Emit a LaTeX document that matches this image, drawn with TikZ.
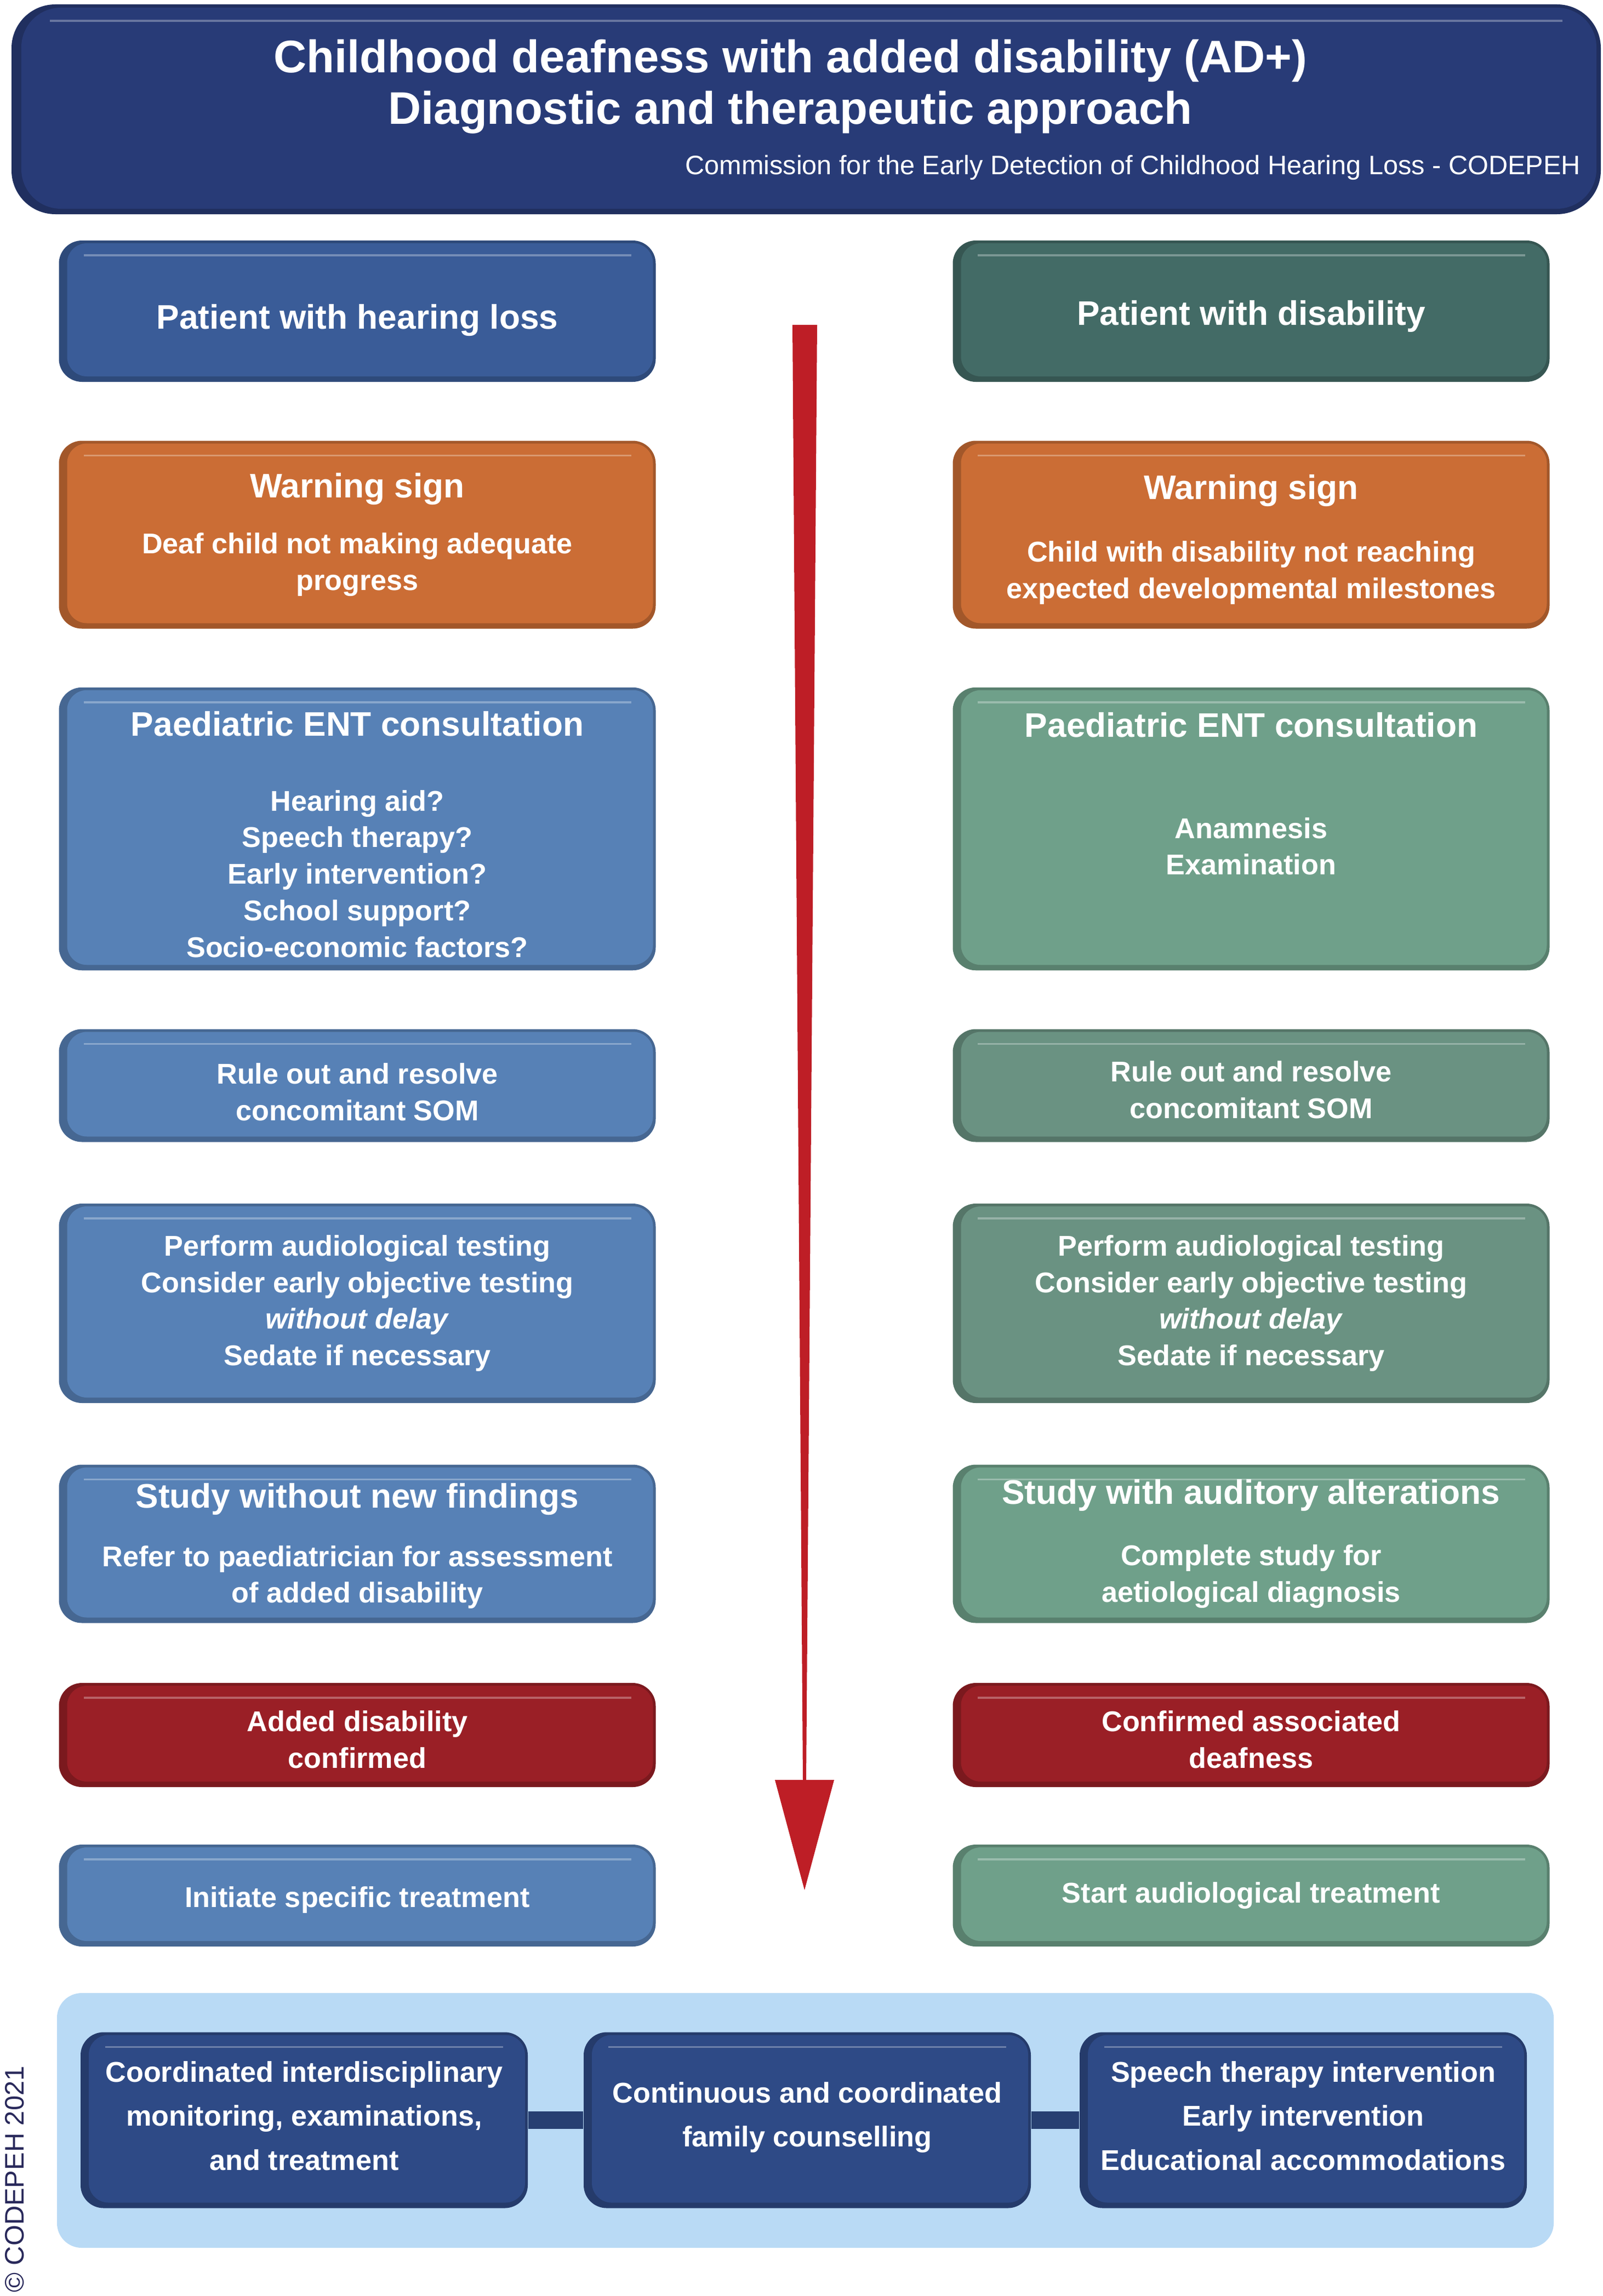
\documentclass[tikz,border=0pt]{standalone}
\usepackage{fontspec}
\setmainfont{Liberation Sans}
\usepackage{tikz}
\usetikzlibrary{calc,positioning}
\definecolor{navy}{HTML}{283B77}
\definecolor{hearblue}{HTML}{3A5C98}
\definecolor{disteal}{HTML}{436B66}
\definecolor{warnorange}{HTML}{CB6D35}
\definecolor{midblue}{HTML}{5781B6}
\definecolor{sage}{HTML}{6FA08A}
\definecolor{greysage}{HTML}{6A9282}
\definecolor{wine}{HTML}{9A1F26}
\definecolor{panelblue}{HTML}{B9DAF5}
\definecolor{deepblue}{HTML}{2E4A86}
\definecolor{arrowred}{HTML}{BE1E26}
\definecolor{copyink}{HTML}{28285A}
\newcommand{\bodyfont}{\fontsize{14.85}{19}\selectfont\bfseries}
\newcommand{\boxhead}[1]{{\fontsize{17.7}{21}\selectfont #1}}
\newcommand{\lead}[1]{\rule{0pt}{#1pt}}% pushes a text block down a little
\newcommand{\tail}[1]{\rule[-#1pt]{0pt}{0pt}}% lifts a text block a little

\begin{document}
\begin{tikzpicture}[
	bevel/.style={rounded corners=0.42cm, fill=#1!80!black, text=white, align=center,
		font=\bodyfont, inner sep=0pt, minimum width=10.89cm,
		path picture={
			\fill[#1, rounded corners=0.36cm] ([xshift=0.15cm,yshift=0.1cm]path picture bounding box.south west) rectangle ([xshift=-0.05cm,yshift=-0.05cm]path picture bounding box.north east);
			\draw[white, opacity=.3, line width=1.1pt] ([xshift=0.45cm,yshift=-0.27cm]path picture bounding box.north west) -- ([xshift=-0.45cm,yshift=-0.27cm]path picture bounding box.north east);}},
	banner/.style={rounded corners=0.8cm, fill=navy!80!black, inner sep=0pt,
		path picture={
			\fill[navy, rounded corners=0.72cm] ([xshift=0.18cm,yshift=0.1cm]path picture bounding box.south west) rectangle ([xshift=-0.08cm,yshift=-0.06cm]path picture bounding box.north east);
			\draw[white, opacity=.3, line width=1.3pt] ([xshift=0.7cm,yshift=-0.3cm]path picture bounding box.north west) -- ([xshift=-0.7cm,yshift=-0.3cm]path picture bounding box.north east);}},
	txtw/.style={text=white, align=center, font=\bodyfont, inner sep=0pt},
	action/.style={bevel=deepblue, minimum width=8.16cm, minimum height=3.21cm, font=\fontsize{14.85}{22.8}\selectfont\bfseries},
	bar/.style={line width=0.32cm, draw=deepblue!85!black}
	]
	\useasboundingbox (0,0) rectangle (29.25,-41.91);
	
	% title
	\node[banner, minimum width=29cm, minimum height=3.83cm] (banner) at (14.71,-1.995) {};
	\node[txtw, font=\fontsize{23.7}{26.6}\selectfont\bfseries] (title) at (14.42,-1.58) {Childhood deafness with added disability (AD+)\\Diagnostic and therapeutic approach};
	\node[txtw, anchor=east, font=\fontsize{13.85}{16}\selectfont] (commission) at (28.85,-3.06) {Commission for the Early Detection of Childhood Hearing Loss - CODEPEH};
	
	% red arrow
	\fill[arrowred] (14.46,-5.93) -- (14.91,-5.93) -- (14.71,-32.49) -- (15.22,-32.49) -- (14.68,-34.5) -- (14.14,-32.49) -- (14.65,-32.49) -- cycle;
	
	% left column
	\node[bevel=hearblue, minimum height=2.58cm] (hear) at (6.52,-5.68) {\lead{22.4}\boxhead{Patient with hearing loss}};
	\node[bevel=warnorange, minimum height=3.43cm] (warnL) at (6.52,-9.76) {\boxhead{Warning sign}\\[9.9pt]Deaf child not making adequate\\progress};
	\node[bevel=midblue, minimum height=5.165cm] (entL) at (6.52,-15.13) {\lead{18.6}\boxhead{Paediatric ENT consultation}\\[19.8pt]Hearing aid?\\Speech therapy?\\Early intervention?\\School support?\\Socio-economic factors?};
	\node[bevel=midblue, minimum height=2.06cm] (somL) at (6.52,-19.815) {\lead{17.5}Rule out and resolve\\concomitant SOM};
	\node[bevel=midblue, minimum height=3.64cm] (testL) at (6.52,-23.79) {Perform audiological testing\\Consider early objective testing\\\textit{without delay}\\Sedate if necessary};
	\node[bevel=midblue, minimum height=2.89cm] (studyL) at (6.52,-28.18) {\lead{15}\boxhead{Study without new findings}\\[11.4pt]Refer to paediatrician for assessment\\of added disability};
	\node[bevel=wine, minimum height=1.9cm] (confL) at (6.52,-31.67) {\lead{15.4}Added disability\\confirmed};
	\node[bevel=midblue, minimum height=1.86cm] (treatL) at (6.52,-34.6) {\lead{15.4}Initiate specific treatment};
	
	% right column
	\node[bevel=disteal, minimum height=2.58cm] (dis) at (22.83,-5.68) {\lead{18}\boxhead{Patient with disability}};
	\node[bevel=warnorange, minimum height=3.43cm] (warnR) at (22.83,-9.76) {\lead{17.8}\boxhead{Warning sign}\\[13.7pt]Child with disability not reaching\\expected developmental milestones};
	\node[bevel=sage, minimum height=5.165cm] (entR) at (22.83,-15.13) {};
	\node[txtw] (entRtxt) at ([yshift=0.64cm]entR.center) {\boxhead{Paediatric ENT consultation}\\[33.5pt]Anamnesis\\Examination};
	\node[bevel=greysage, minimum height=2.06cm] (somR) at (22.83,-19.815) {\lead{15.4}Rule out and resolve\\concomitant SOM};
	\node[bevel=greysage, minimum height=3.64cm] (testR) at (22.83,-23.79) {Perform audiological testing\\Consider early objective testing\\\textit{without delay}\\Sedate if necessary};
	\node[bevel=sage, minimum height=2.89cm] (studyR) at (22.83,-28.18) {\boxhead{Study with auditory alterations}\\[13pt]Complete study for\\aetiological diagnosis};
	\node[bevel=wine, minimum height=1.9cm] (confR) at (22.83,-31.67) {\lead{15.4}Confirmed associated\\deafness};
	\node[bevel=sage, minimum height=1.86cm] (treatR) at (22.83,-34.6) {Start audiological treatment};
	
	% bottom panel
	\node[fill=panelblue, rounded corners=0.45cm, minimum width=27.31cm, minimum height=4.65cm] (panel) at (14.695,-38.705) {};
	\node[action] (coord) at (5.55,-38.7) {Coordinated interdisciplinary\\monitoring, examinations,\\and treatment\tail{4.6}};
	\node[action] (family) at (14.73,-38.7) {Continuous and coordinated\\family counselling\tail{6.1}};
	\node[action] (speech) at (23.78,-38.7) {Speech therapy intervention\\Early intervention\\Educational accommodations\tail{4.6}};
	\draw[bar] (coord.east) -- (family.west);
	\draw[bar] (family.east) -- (speech.west);
	
	\node[rotate=90, text=copyink, inner sep=0pt, font=\fontsize{13.9}{16}\selectfont] (copyright) at (0.27,-39.78) {© CODEPEH 2021};
\end{tikzpicture}
\end{document}
